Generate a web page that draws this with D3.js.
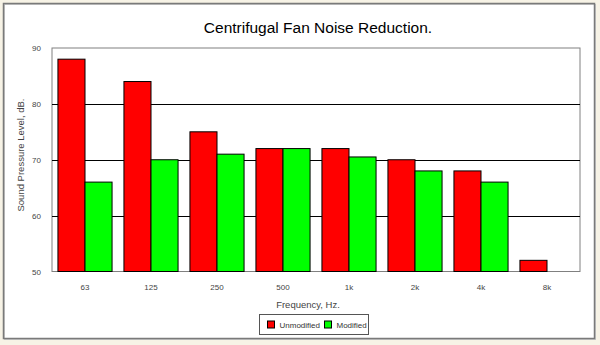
<!DOCTYPE html>
<html>
<head>
<meta charset="utf-8">
<script src="https://cdn.jsdelivr.net/npm/d3@7"></script>
<style>
body { margin: 0; background: #f7f3e6; }
text { font-family: Arial, "Liberation Sans", sans-serif; }
</style>
</head>
<body>
<div id="chart"></div>
<script>
// data
var bands = ["63", "125", "250", "500", "1k", "2k", "4k", "8k"];
var unmodified = [88, 84, 75, 72, 72, 70, 68, 52];
var modified = [66, 70, 71, 72, 70.5, 68, 66, null];
var seriesNames = ["Unmodified", "Modified"];
var seriesColors = ["#ff0000", "#00ff00"];
var yTicks = [50, 60, 70, 80, 90];

const width = 600, height = 345;
const plot = {left: 52, right: 580, top: 48, bottom: 271.5};

const svg = d3.select("#chart").append("svg")
    .attr("width", width)
    .attr("height", height);

// outer frame
svg.append("rect")
    .attr("x", 4.5).attr("y", 4.5)
    .attr("width", 591).attr("height", 335)
    .attr("fill", "#fff")
    .attr("stroke", "#c8c8c8").attr("stroke-width", 1);
svg.append("rect")
    .attr("x", 3.5).attr("y", 3.5)
    .attr("width", 591).attr("height", 335)
    .attr("fill", "none")
    .attr("stroke", "#7a7a7a").attr("stroke-width", 1.5);

// title
svg.append("text")
    .attr("x", 318).attr("y", 33)
    .attr("text-anchor", "middle")
    .style("font-size", "15.5px")
    .text("Centrifugal Fan Noise Reduction.");

var x = d3.scaleBand()
    .domain(bands)
    .range([plot.left, plot.right])
    .paddingInner(0.18)
    .paddingOuter(0.09);

var xs = d3.scaleBand()
    .domain(seriesNames)
    .range([0, x.bandwidth()]);

var y = d3.scaleLinear()
    .domain([50, 90])
    .range([plot.bottom, plot.top]);

// plot area
svg.append("rect")
    .attr("x", plot.left).attr("y", plot.top)
    .attr("width", plot.right - plot.left)
    .attr("height", plot.bottom - plot.top)
    .attr("fill", "#fff")
    .attr("stroke", "#808080");

// gridlines
svg.append("g")
    .selectAll("line")
    .data(yTicks.slice(1, -1))
    .enter()
    .append("line")
    .attr("x1", plot.left).attr("x2", plot.right)
    .attr("y1", function(d) { return Math.round(y(d)) + 0.5; })
    .attr("y2", function(d) { return Math.round(y(d)) + 0.5; })
    .attr("stroke", "#000")
    .attr("stroke-width", 1);

// y axis labels
var yAxis = d3.axisLeft(y).tickValues(yTicks).tickSize(0).tickPadding(11);
var yg = svg.append("g")
    .attr("transform", "translate(" + plot.left + ",0)")
    .call(yAxis);
yg.select(".domain").remove();
yg.selectAll("text").style("font-size", "8px").attr("fill", "#444");

// x axis labels
var xAxis = d3.axisBottom(x).tickSize(0).tickPadding(13);
var xg = svg.append("g")
    .attr("transform", "translate(0," + plot.bottom + ")")
    .call(xAxis);
xg.select(".domain").remove();
xg.selectAll("text").style("font-size", "8px").attr("fill", "#444");

// bars
var rows = bands.map(function(b, i) {
    return {band: b, values: [unmodified[i], modified[i]]};
});

var groups = svg.append("g")
    .selectAll("g.band")
    .data(rows)
    .enter()
    .append("g")
    .attr("class", "band")
    .attr("transform", function(d) { return "translate(" + x(d.band) + ",0)"; });

groups.selectAll("rect")
    .data(function(d) {
        return d.values.map(function(v, j) { return {name: seriesNames[j], value: v, color: seriesColors[j]}; })
            .filter(function(e) { return e.value != null; });
    })
    .enter()
    .append("rect")
    .attr("x", function(d) { return xs(d.name); })
    .attr("width", xs.bandwidth())
    .attr("y", function(d) { return y(d.value); })
    .attr("height", function(d) { return plot.bottom - y(d.value); })
    .attr("fill", function(d) { return d.color; })
    .attr("stroke", "#000")
    .attr("stroke-width", 1);

// axis titles
svg.append("text")
    .attr("transform", "translate(24,155) rotate(-90)")
    .attr("text-anchor", "middle")
    .style("font-size", "9.5px")
    .attr("fill", "#444")
    .text("Sound Pressure Level, dB.");

svg.append("text")
    .attr("x", 308).attr("y", 308)
    .attr("text-anchor", "middle")
    .style("font-size", "9.5px")
    .attr("fill", "#444")
    .text("Frequency, Hz.");

// legend
var legend = svg.append("g").attr("transform", "translate(259.5,314.5)");
legend.append("rect")
    .attr("width", 109).attr("height", 20)
    .attr("fill", "#fff")
    .attr("stroke", "#555");

var items = legend.selectAll("g.item")
    .data(seriesNames)
    .enter()
    .append("g")
    .attr("class", "item")
    .attr("transform", function(d, i) { return "translate(" + (i == 0 ? 8 : 65) + ",6.5)"; });

items.append("rect")
    .attr("width", 7).attr("height", 7)
    .attr("fill", function(d, i) { return seriesColors[i]; })
    .attr("stroke", "#000");

items.append("text")
    .attr("x", 12).attr("y", 7)
    .style("font-size", "8px")
    .attr("fill", "#333")
    .text(function(d) { return d; });
</script>
</body>
</html>
